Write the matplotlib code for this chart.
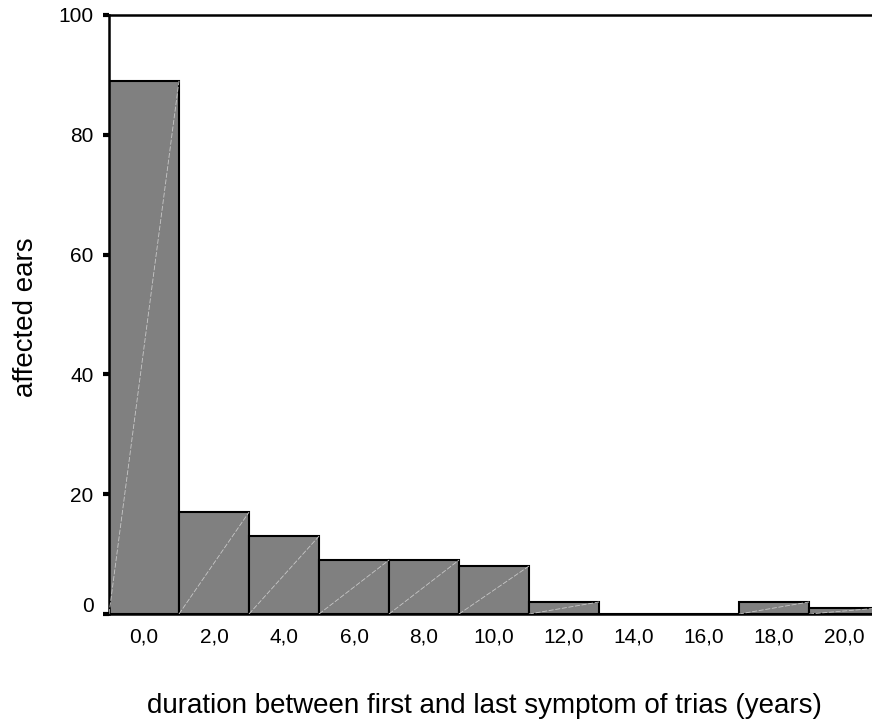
import matplotlib
matplotlib.use("Agg")
import matplotlib.pyplot as plt
import matplotlib.transforms as mtransforms

bin_centers = [0, 2, 4, 6, 8, 10, 12, 14, 16, 18, 20]
counts = [89, 17, 13, 9, 9, 8, 2, 0, 0, 2, 1]
xtick_labels = ["0,0", "2,0", "4,0", "6,0", "8,0", "10,0", "12,0", "14,0", "16,0", "18,0", "20,0"]
yticks = [0, 20, 40, 60, 80, 100]

plt.rcParams['font.family'] = ['Liberation Sans', 'DejaVu Sans']

fig = plt.figure(figsize=(8.72, 7.2), dpi=100)
ax = fig.add_axes([109/872, 1-614/720, 770/872, 599/720])

width = 2.0
ax.bar(bin_centers, counts, width=width, color='#808080', edgecolor='black', linewidth=1.5, zorder=2)
# faint diagonal rendering artifacts inside each bar
for c, h in zip(bin_centers, counts):
    if h > 0:
        ax.plot([c - width/2, c + width/2], [0, h], color='#c8c8c8', linewidth=0.6,
                linestyle=(0, (6, 2)), zorder=3)

ax.set_xlim(-1, 21)
ax.set_ylim(0, 100)
ax.set_xticks(bin_centers)
ax.set_xticklabels(xtick_labels)
ax.set_yticks(yticks)
ax.tick_params(axis='x', length=0, pad=10, labelsize=15)
ax.tick_params(axis='y', direction='out', length=4, width=3, pad=7, labelsize=15)

for s in ['left', 'top', 'bottom']:
    ax.spines[s].set_linewidth(1.8)
ax.spines['right'].set_visible(False)

# the "0" label sits slightly above its tick in the reference
ylabels = ax.get_yticklabels()
ylabels[0].set_transform(ylabels[0].get_transform() +
                         mtransforms.ScaledTranslation(0, 10/100, fig.dpi_scale_trans))

ax.set_ylabel("affected ears", fontsize=20, labelpad=14, y=0.495)
ax.set_xlabel("duration between first and last symptom of trias (years)", fontsize=20,
              labelpad=33, x=0.488)

fig.savefig("out.png", dpi=100)
